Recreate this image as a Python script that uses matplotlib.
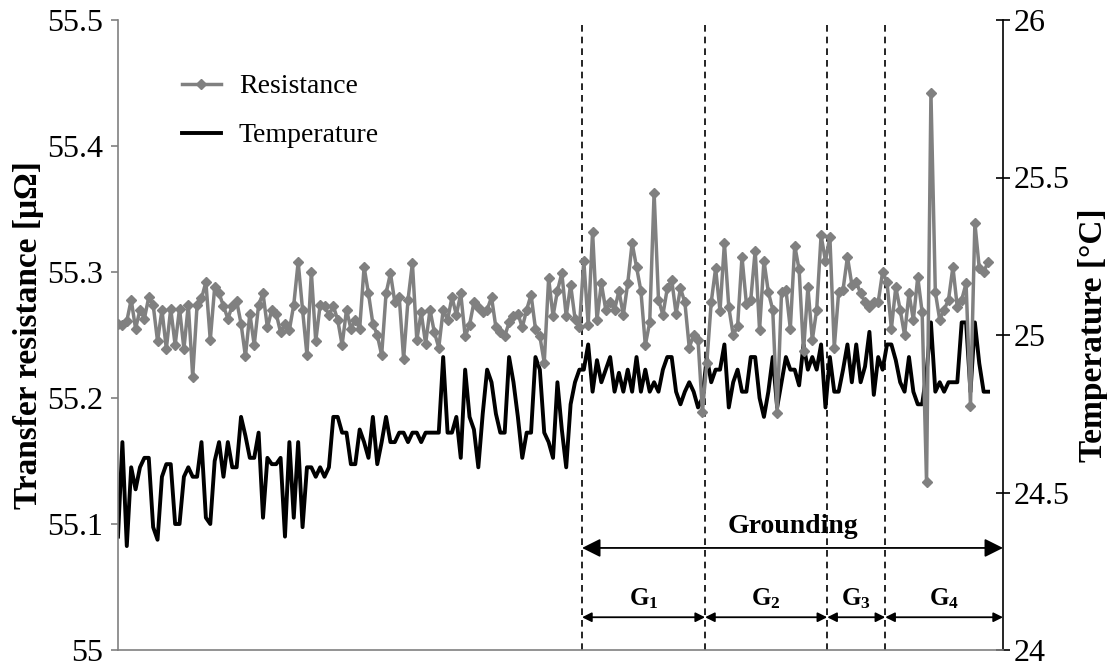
import matplotlib
matplotlib.use("Agg")
import matplotlib.pyplot as plt
import matplotlib.ticker as ticker
import numpy as np

# transfer resistance [uOhm], one value per sample
resistance = [
    55.259, 55.258, 55.261, 55.278, 55.255, 55.270, 55.263, 55.280, 55.274, 55.245,
    55.270, 55.239, 55.271, 55.242, 55.271, 55.239, 55.274, 55.217, 55.274, 55.279,
    55.292, 55.246, 55.288, 55.283, 55.273, 55.263, 55.273, 55.277, 55.259, 55.233,
    55.267, 55.242, 55.274, 55.283, 55.256, 55.270, 55.267, 55.252, 55.259, 55.254,
    55.274, 55.308, 55.270, 55.234, 55.300, 55.245, 55.274, 55.273, 55.266, 55.273,
    55.262, 55.242, 55.270, 55.255, 55.262, 55.255, 55.304, 55.283, 55.259, 55.250,
    55.234, 55.283, 55.299, 55.276, 55.280, 55.231, 55.278, 55.307, 55.246, 55.268,
    55.243, 55.270, 55.252, 55.240, 55.270, 55.262, 55.280, 55.266, 55.283, 55.249,
    55.258, 55.276, 55.272, 55.268, 55.270, 55.280, 55.256, 55.252, 55.249, 55.260,
    55.265, 55.267, 55.256, 55.270, 55.282, 55.255, 55.249, 55.228, 55.295, 55.265,
    55.285, 55.299, 55.265, 55.290, 55.263, 55.256, 55.309, 55.258, 55.332, 55.262,
    55.291, 55.270, 55.276, 55.270, 55.285, 55.266, 55.291, 55.323, 55.304, 55.285,
    55.242, 55.260, 55.363, 55.278, 55.266, 55.287, 55.294, 55.267, 55.287, 55.276,
    55.240, 55.250, 55.246, 55.189, 55.228, 55.276, 55.303, 55.269, 55.323, 55.272,
    55.250, 55.257, 55.312, 55.275, 55.278, 55.317, 55.254, 55.309, 55.284, 55.270,
    55.188, 55.284, 55.286, 55.255, 55.321, 55.302, 55.237, 55.288, 55.246, 55.270,
    55.329, 55.309, 55.328, 55.240, 55.284, 55.286, 55.312, 55.290, 55.292, 55.283,
    55.276, 55.272, 55.276, 55.276, 55.300, 55.292, 55.255, 55.288, 55.270, 55.250,
    55.283, 55.262, 55.296, 55.268, 55.133, 55.442, 55.284, 55.262, 55.270, 55.278,
    55.304, 55.272, 55.278, 55.291, 55.194, 55.339, 55.303, 55.300, 55.308]

# temperature [C], same samples
temperature = [
    24.36, 24.66, 24.33, 24.58, 24.51, 24.58, 24.61, 24.61, 24.39, 24.35,
    24.55, 24.59, 24.59, 24.40, 24.40, 24.55, 24.58, 24.55, 24.55, 24.66,
    24.42, 24.40, 24.60, 24.66, 24.55, 24.66, 24.58, 24.58, 24.74, 24.68,
    24.61, 24.61, 24.69, 24.42, 24.61, 24.59, 24.59, 24.61, 24.36, 24.66,
    24.42, 24.66, 24.39, 24.58, 24.58, 24.55, 24.58, 24.55, 24.58, 24.74,
    24.74, 24.69, 24.69, 24.59, 24.59, 24.70, 24.66, 24.61, 24.74, 24.59,
    24.66, 24.74, 24.66, 24.66, 24.69, 24.69, 24.66, 24.69, 24.69, 24.66,
    24.69, 24.69, 24.69, 24.69, 24.93, 24.69, 24.69, 24.74, 24.61, 24.89,
    24.74, 24.70, 24.58, 24.75, 24.89, 24.85, 24.75, 24.69, 24.69, 24.93,
    24.85, 24.74, 24.61, 24.69, 24.69, 24.93, 24.89, 24.69, 24.66, 24.61,
    24.85, 24.70, 24.58, 24.78, 24.85, 24.89, 24.89, 24.97, 24.82, 24.92,
    24.85, 24.89, 24.93, 24.82, 24.88, 24.82, 24.89, 24.82, 24.93, 24.82,
    24.89, 24.82, 24.85, 24.82, 24.89, 24.93, 24.93, 24.82, 24.78, 24.82,
    24.85, 24.82, 24.77, 24.80, 24.93, 24.85, 24.89, 24.89, 24.97, 24.77,
    24.85, 24.89, 24.82, 24.82, 24.93, 24.93, 24.80, 24.74, 24.82, 24.93,
    24.77, 24.85, 24.93, 24.89, 24.89, 24.84, 24.97, 24.89, 24.93, 24.89,
    24.97, 24.77, 24.93, 24.82, 24.82, 24.89, 24.97, 24.85, 24.97, 24.85,
    24.90, 25.01, 24.81, 24.93, 24.89, 24.97, 24.97, 24.92, 24.85, 24.82,
    24.93, 24.82, 24.78, 24.78, 24.88, 25.04, 24.82, 24.85, 24.82, 24.85,
    24.85, 24.85, 25.04, 25.04, 24.82, 25.04, 24.91, 24.82, 24.82]

sample = np.arange(len(resistance))

# grounding phase boundaries (sample index) and names
phase_edges = [105.6, 133.6, 161.4, 174.6, 201.4]
phase_names = [r"$\mathbf{G_1}$", r"$\mathbf{G_2}$", r"$\mathbf{G_3}$", r"$\mathbf{G_4}$"]

plt.rcParams["font.family"] = ["Liberation Serif", "DejaVu Serif"]
plt.rcParams["mathtext.fontset"] = "custom"
plt.rcParams["mathtext.rm"] = "Liberation Serif"
plt.rcParams["mathtext.bf"] = "Liberation Serif:bold"

fig = plt.figure(figsize=(11.07, 6.66), dpi=100)
ax = fig.add_axes([118/1107, 16/666, 885/1107, 630/666])
ax2 = ax.twinx()

l2, = ax2.plot(sample, temperature, color="black", lw=2.8, label="Temperature")
l1, = ax.plot(sample, resistance, color="#808080", lw=2.5, marker="D", ms=5.5,
              label="Resistance")
ax.set_zorder(ax2.get_zorder()+1)
ax.patch.set_visible(False)

ax.set_xlim(0, phase_edges[-1])
ax.set_ylim(55, 55.5)
ax2.set_ylim(24, 26)
ax.yaxis.set_major_locator(ticker.MultipleLocator(0.1))
ax2.yaxis.set_major_locator(ticker.MultipleLocator(0.5))
ax.yaxis.set_major_formatter(lambda v, pos: "{:g}".format(round(v, 2)))
ax2.yaxis.set_major_formatter(lambda v, pos: "{:g}".format(round(v, 2)))

for a in (ax, ax2):
    a.spines["top"].set_visible(False)
ax.spines["right"].set_visible(False)
ax2.spines["left"].set_visible(False)
ax2.spines["bottom"].set_visible(False)
ax.spines["left"].set_color("#808080")
ax.spines["bottom"].set_color("#808080")
ax.spines["left"].set_linewidth(1.2)
ax.spines["bottom"].set_linewidth(1.2)
ax2.spines["right"].set_linewidth(1.2)

ax.tick_params(axis="x", bottom=False, labelbottom=False)
ax.tick_params(axis="y", direction="out", length=5, width=1.2, color="#808080",
               labelsize=23, pad=6)
ax2.tick_params(axis="y", direction="inout", length=10, width=1.2, labelsize=23, pad=3)

ax.set_ylabel("Transfer resistance [μΩ]", fontsize=24, fontweight="bold")
ax2.set_ylabel("Temperature [°C]", fontsize=24, fontweight="bold")
ax.yaxis.set_label_coords(-0.084, 0.5)
ax2.yaxis.set_label_coords(1.085, 0.5)

ax.legend(handles=[l1, l2], loc="upper left", bbox_to_anchor=(0.044, 0.954),
          frameon=False, fontsize=20, handlelength=1.4, labelspacing=0.85,
          handletextpad=0.65)

trans = ax.get_xaxis_transform()
for x in phase_edges[:-1]:
    ax.axvline(x, color="black", lw=1.2, ls=(0, (4, 3)), zorder=1)

ax.annotate("", xy=(phase_edges[-1], 0.162), xytext=(phase_edges[0], 0.162),
            xycoords=trans, textcoords=trans,
            arrowprops=dict(arrowstyle="<|-|>", color="black", lw=1.3,
                            mutation_scale=28, shrinkA=0, shrinkB=0))
ax.text((phase_edges[0]+phase_edges[-1])/2, 0.196, "Grounding", transform=trans,
        ha="center", va="center", fontsize=20, fontweight="bold")

for i, name in enumerate(phase_names):
    x0, x1 = phase_edges[i], phase_edges[i+1]
    ax.annotate("", xy=(x1, 0.052), xytext=(x0, 0.052),
                xycoords=trans, textcoords=trans,
                arrowprops=dict(arrowstyle="<|-|>", color="black", lw=1.3,
                                mutation_scale=14, shrinkA=0, shrinkB=0))
    ax.text((x0+x1)/2, 0.082, name, transform=trans, ha="center", va="center",
            fontsize=18)

fig.savefig("out.png", dpi=100)
